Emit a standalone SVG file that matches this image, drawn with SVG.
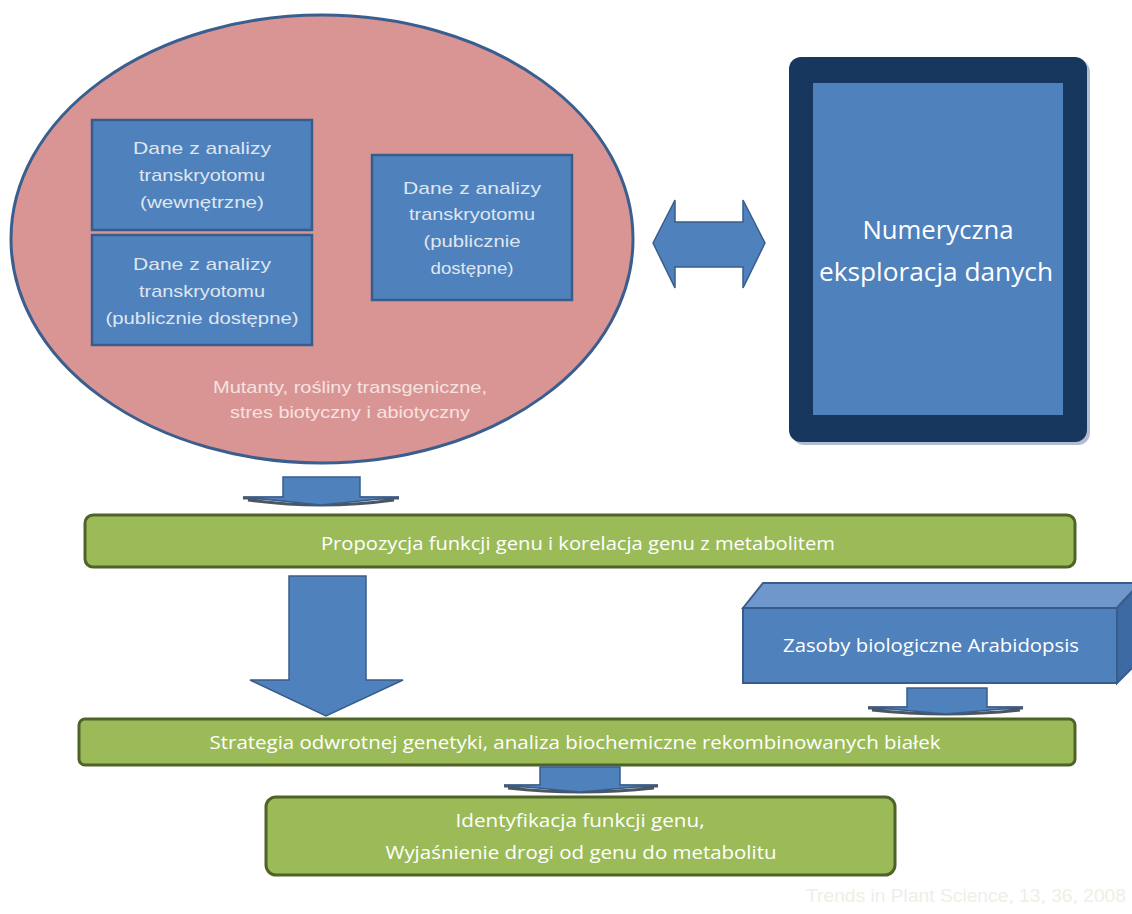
<svg xmlns="http://www.w3.org/2000/svg" width="1132" height="914" viewBox="0 0 1132 914">
<style>
.bx{fill:#4f81bd;stroke:#385d8a;stroke-width:2.5}
.bt{font-family:"Liberation Sans",Arial,sans-serif;font-size:17px;fill:#dfe6f0;text-anchor:middle}
.et{font-family:"Liberation Sans",Arial,sans-serif;font-size:17px;fill:#f6e2e2;text-anchor:middle}
.gr{fill:#9bbb59;stroke:#4f6228;stroke-width:3}
.gt{font-family:"Open Sans","Liberation Sans",sans-serif;font-size:19px;fill:#ffffff;text-anchor:middle}
.ar{fill:#4f81bd;stroke:#385d8a;stroke-width:1.5}
.sh{fill:none;stroke:#1f2a38;stroke-width:3;opacity:0.8}
</style>
<rect width="1132" height="914" fill="#ffffff"/>

<g id="ellipse-group">
  <ellipse cx="322" cy="239" rx="311" ry="224" fill="#d99594" stroke="#3a5f8f" stroke-width="3"/>
  <text class="et" x="350" y="393" textLength="274" lengthAdjust="spacingAndGlyphs">Mutanty, rośliny transgeniczne,</text>
  <text class="et" x="350" y="418" textLength="240" lengthAdjust="spacingAndGlyphs">stres biotyczny i abiotyczny</text>
</g>

<g id="box-wewnetrzne">
  <rect class="bx" x="92" y="120" width="220" height="110"/>
  <text class="bt" x="202" y="154" textLength="138" lengthAdjust="spacingAndGlyphs">Dane z analizy</text>
  <text class="bt" x="202" y="181" textLength="126" lengthAdjust="spacingAndGlyphs">transkryotomu</text>
  <text class="bt" x="202" y="208" textLength="124" lengthAdjust="spacingAndGlyphs">(wewnętrzne)</text>
</g>

<g id="box-publiczne1">
  <rect class="bx" x="92" y="235" width="220" height="110"/>
  <text class="bt" x="202" y="270" textLength="138" lengthAdjust="spacingAndGlyphs">Dane z analizy</text>
  <text class="bt" x="202" y="297" textLength="126" lengthAdjust="spacingAndGlyphs">transkryotomu</text>
  <text class="bt" x="202" y="324" textLength="193" lengthAdjust="spacingAndGlyphs">(publicznie dostępne)</text>
</g>

<g id="box-publiczne2">
  <rect class="bx" x="372" y="155" width="200" height="145"/>
  <text class="bt" x="472" y="194" textLength="138" lengthAdjust="spacingAndGlyphs">Dane z analizy</text>
  <text class="bt" x="472" y="220" textLength="126" lengthAdjust="spacingAndGlyphs">transkryotomu</text>
  <text class="bt" x="472" y="247" textLength="97" lengthAdjust="spacingAndGlyphs">(publicznie</text>
  <text class="bt" x="472" y="274" textLength="83" lengthAdjust="spacingAndGlyphs">dostępne)</text>
</g>

<g id="numeryczna">
  <rect x="792" y="60" width="298" height="385" rx="12" fill="#7f93b0" opacity="0.6"/>
  <rect x="789" y="57" width="298" height="385" rx="12" fill="#17375e"/>
  <rect x="813" y="83" width="250" height="332" fill="#4f81bd"/>
  <text x="938" y="239" font-family="Open Sans,Liberation Sans,sans-serif" font-size="25" fill="#ffffff" text-anchor="middle" textLength="151" lengthAdjust="spacingAndGlyphs">Numeryczna</text>
  <text x="936" y="281" font-family="Open Sans,Liberation Sans,sans-serif" font-size="25" fill="#ffffff" text-anchor="middle" textLength="234" lengthAdjust="spacingAndGlyphs">eksploracja danych</text>
</g>

<g id="bar-propozycja">
  <rect class="gr" x="85" y="515" width="990" height="52" rx="8"/>
  <text class="gt" x="578" y="550" textLength="514" lengthAdjust="spacingAndGlyphs">Propozycja funkcji genu i korelacja genu z metabolitem</text>
</g>

<g id="zasoby">
  <polygon points="743,608 763,583 1140,583 1117,608" fill="#6f97cb" stroke="#385d8a" stroke-width="2"/>
  <polygon points="1117,608 1140,583 1140,660 1117,683" fill="#3d6aa3" stroke="#385d8a" stroke-width="2"/>
  <rect x="743" y="608" width="374" height="75" fill="#4f81bd" stroke="#385d8a" stroke-width="2"/>
  <text x="931" y="652" font-family="Open Sans,Liberation Sans,sans-serif" font-size="19" fill="#ffffff" text-anchor="middle" textLength="296" lengthAdjust="spacingAndGlyphs">Zasoby biologiczne Arabidopsis</text>
</g>

<g id="bar-strategia">
  <rect class="gr" x="79" y="719" width="996" height="46" rx="6"/>
  <text class="gt" x="575" y="749" textLength="731" lengthAdjust="spacingAndGlyphs">Strategia odwrotnej genetyki, analiza biochemiczne rekombinowanych białek</text>
</g>

<g id="box-identyfikacja">
  <rect class="gr" x="266" y="797" width="629" height="78" rx="10"/>
  <text class="gt" x="580" y="827" textLength="249" lengthAdjust="spacingAndGlyphs">Identyfikacja funkcji genu,</text>
  <text class="gt" x="581" y="859" textLength="391" lengthAdjust="spacingAndGlyphs">Wyjaśnienie drogi od genu do metabolitu</text>
</g>

<g id="credit">
  <text x="806" y="902" font-family="Liberation Sans,Arial,sans-serif" font-size="19" fill="#f0eee6" textLength="320" lengthAdjust="spacingAndGlyphs">Trends in Plant Science, 13, 36, 2008</text>
</g>

<g id="connectors">
  <polygon class="ar" points="653,243 675,200 675,222 743,222 743,200 765,243 743,288 743,267 675,267 675,288"/>
  <path class="sh" d="M243,498 L283,498 M360,498 L399,498 M248,500 Q321,510 394,500"/>
  <polygon class="ar" points="283,477 360,477 360,497 399,497 321,505 243,497 283,497"/>
  <polygon class="ar" points="289,576 366,576 366,680 403,680 326,716 250,680 289,680"/>
  <path class="sh" d="M868,708 L907,708 M987,708 L1023,708 M872,710 Q946,718 1020,710"/>
  <polygon class="ar" points="907,688 987,688 987,707 1023,707 946,714 868,707 907,707"/>
  <path class="sh" d="M504,786 L540,786 M620,786 L658,786 M508,788 Q580,796 654,788"/>
  <polygon class="ar" points="540,767 620,767 620,785 658,785 580,792 504,785 540,785"/>
</g>
</svg>
